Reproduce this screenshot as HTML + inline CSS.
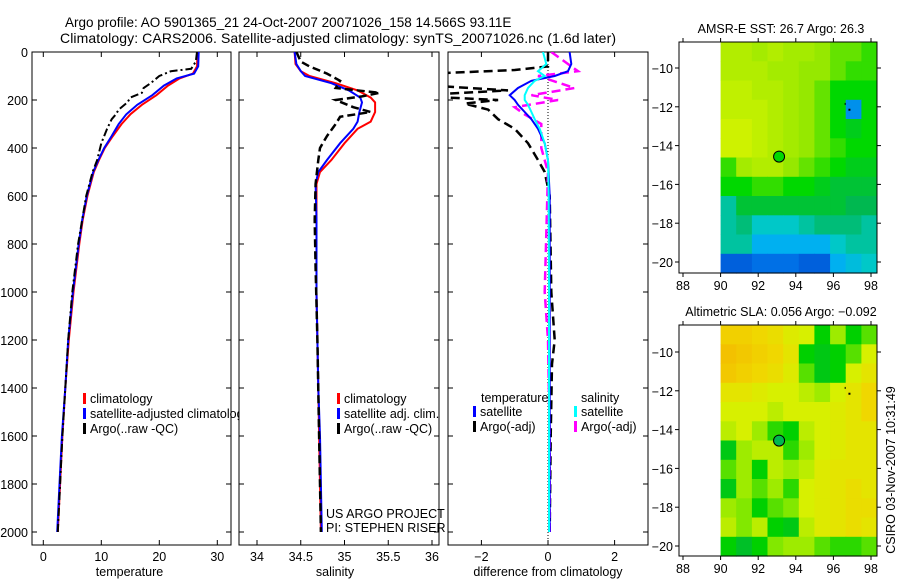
<!DOCTYPE html>
<html><head><meta charset="utf-8"><style>
body{margin:0;background:#fff;}
svg text{font-family:"Liberation Sans",sans-serif;fill:#000;}
</style></head><body>
<svg id="c" width="900" height="580" xmlns="http://www.w3.org/2000/svg">
<text x="65" y="27" font-size="13.5">Argo profile: AO 5901365_21 24-Oct-2007 20071026_158 14.566S 93.11E</text>
<text x="60" y="43" font-size="14" textLength="556">Climatology: CARS2006. Satellite-adjusted climatology: synTS_20071026.nc (1.6d later)</text>
<g id="g"></g>
</svg>
<script>
// ---- data ----
const tDepth=[0,60,90,110,140,180,220,260,300,350,400,450,500,600,700,800,1000,1200,1400,1600,1800,2000];
const tClim=[26.6,26.5,25.8,23.5,21.5,19.5,17,15,13.5,12,10.6,9.6,8.7,7.6,6.8,6.2,5.2,4.4,3.8,3.3,2.9,2.5];
const tSat=[26.8,26.7,26,23,20.8,18.8,16.2,14.3,13,11.8,10.5,9.5,8.6,7.5,6.7,6.1,5.1,4.3,3.8,3.2,2.8,2.4];
const tArgoDepth=[0,40,70,80,100,130,150,170,190,210,240,260,280,320,380,450,500,600,800,1000,1200,1400,1600,1800,2000];
const tArgo=[26.5,26.3,25.5,22,20,18.5,17.3,17,15,14.5,13,12.5,11.8,11,10,9.3,8.5,7.4,6,5,4.3,3.8,3.3,2.9,2.5];
const sDepth=[0,50,80,100,130,160,190,210,250,290,320,380,450,500,550,700,1000,1400,1600,1800,2000];
const sClim=[34.43,34.44,34.5,34.6,34.9,35.15,35.3,35.35,35.35,35.3,35.15,35.0,34.85,34.72,34.68,34.68,34.68,34.7,34.71,34.72,34.73];
const sSat=[34.43,34.45,34.5,34.55,34.85,35.05,35.18,35.2,35.17,35.15,35.1,34.95,34.8,34.7,34.67,34.68,34.68,34.7,34.72,34.73,34.74];
const sArgoDepth=[0,40,60,90,120,150,170,185,200,230,250,270,300,350,400,450,550,700,900,1200,1600,2000];
const sArgo=[34.45,34.5,34.6,34.8,34.95,34.9,35.4,35.2,34.9,35.1,35.3,34.95,34.9,34.8,34.72,34.7,34.67,34.66,34.67,34.69,34.71,34.73];
const dTDepth=[0,50,80,100,120,150,180,200,220,250,280,320,380,450,600,1000,1400,2000];
const dTSat=[0.65,0.7,0.6,0.2,-0.5,-0.9,-1.15,-1.0,-0.9,-0.7,-0.5,-0.3,-0.1,0,0.05,0.05,0.05,0.05];
const dTArgoDepth=[0,60,75,90,110,140,160,175,190,200,215,240,280,320,380,450,500,600,1000,1200,1300,1600,2000];
const dTArgo=[0,0,-1,-3.5,-3.2,-3.5,-1.2,-3.2,-3.0,-1.5,-2.5,-1.8,-1.5,-1.0,-0.6,-0.3,-0.1,0.05,0.1,0.2,0.12,0.08,0.05];
const dSSat=[-0.15,-0.05,-0.3,-0.1,-0.4,-0.6,-0.7,-0.7,-0.6,-0.5,-0.4,-0.25,-0.1,0,0.02,0.03,0.03,0.03];
const dSArgoDepth=[0,50,80,100,150,180,200,230,260,300,400,500,1000,1200,1600,2000];
const dSArgo=[0.1,0.6,0.9,-0.3,0.8,-0.5,0.3,-1.0,-0.7,-0.2,-0.2,0,-0.1,0,0.05,0.05];
const depthTicks=[0,200,400,600,800,1000,1200,1400,1600,1800,2000];
const tTicks=[0,10,20,30];
const sTicks=[34,34.5,35,35.5,36];
const dTicks=[-2,0,2];
const sstGrid=[
[.85,.85,.8,.85,.8,.8,.75,.7,.7,.65],
[.85,.85,.85,.8,.8,.75,.75,.7,.65,.65],
[.9,.9,.85,.85,.8,.75,.7,.6,.6,.6],
[.9,.9,.9,.85,.8,.75,.7,.6,.15,.6],
[.95,.95,.9,.85,.8,.75,.7,.6,.55,.6],
[.95,.95,.9,.85,.8,.75,.7,.65,.6,.6],
[.65,.8,.85,.85,.75,.7,.65,.6,.55,.55],
[.6,.6,.65,.65,.6,.6,.55,.5,.5,.5],
[.35,.5,.5,.5,.5,.5,.5,.5,.45,.45],
[.35,.4,.3,.3,.3,.35,.4,.4,.4,.35],
[.35,.35,.2,.2,.2,.2,.2,.3,.35,.35],
[.05,.05,.1,.1,.1,.05,.05,.2,.25,.3]];
const slaGrid=[
[.75,.75,.7,.65,.55,.5,.2,.4,.2,.3],
[.85,.8,.75,.7,.6,.2,.15,.2,.3,.5],
[.8,.75,.7,.65,.55,.3,.15,.2,.5,.6],
[.6,.6,.55,.5,.5,.45,.4,.5,.6,.7],
[.5,.5,.5,.45,.5,.5,.5,.55,.6,.7],
[.45,.5,.4,.25,.2,.45,.5,.55,.6,.6],
[.15,.4,.45,.45,.25,.4,.5,.55,.6,.6],
[.3,.4,.2,.45,.4,.45,.55,.6,.6,.6],
[.15,.4,.3,.4,.25,.5,.55,.6,.65,.6],
[.4,.35,.2,.3,.35,.5,.55,.6,.65,.65],
[.45,.35,.45,.2,.15,.45,.55,.6,.65,.6],
[.2,.1,.2,.35,.4,.4,.3,.25,.25,.3]];
const lonTicks=[88,90,92,94,96,98];
const latTicks=[-10,-12,-14,-16,-18,-20];
const floatLon=93.11, floatLat=-14.566;

// ---- drawing ----
const NS="http://www.w3.org/2000/svg";
const G=document.getElementById('g');
function el(t,a,p){const e=document.createElementNS(NS,t);for(const k in a)e.setAttribute(k,a[k]);(p||G).appendChild(e);return e;}
const yD=d=>52+d*0.24;
const panels=[
 {x0:32,x1:231,fx:v=>43.3+v*5.8,ticks:tTicks,lab:'temperature',name:'temperature'},
 {x0:239,x1:439,fx:v=>257+(v-34)*87.5,ticks:sTicks,lab:'salinity',name:'salinity'},
 {x0:448,x1:648,fx:v=>548+v*33.3,ticks:dTicks,lab:'difference from climatology',name:'difference'}];
function line(p,xs,ds,col,w,dash,name){
 const pts=xs.map((v,i)=>p.fx(v).toFixed(1)+','+yD(ds[i]).toFixed(1)).join(' ');
 const e=el('polyline',{points:pts,fill:'none',stroke:col,'stroke-width':w,'stroke-dasharray':dash||'none','clip-path':'url(#cp'+p.name+')'});
 
 
}
function legend(x,y,items){items.forEach((it,i)=>{
 const r=el('rect',{x:x,y:y+i*15-10,width:3,height:11,fill:it[1]});
 
 const t=el('text',{x:x+7,y:y+i*15,'font-size':12.5});t.textContent=it[0];
 });}
const defs=el('defs',{});
panels.forEach((p,pi)=>{
 const cp=el('clipPath',{id:'cp'+p.name},defs);el('rect',{x:p.x0,y:52,width:p.x1-p.x0,height:493},cp);
 const bg=el('rect',{x:p.x0,y:52,width:p.x1-p.x0,height:493,fill:'#fff',stroke:'#000','stroke-width':1});
 
 depthTicks.forEach(d=>{el('line',{x1:p.x0,x2:p.x0+5,y1:yD(d),y2:yD(d),stroke:'#000'});el('line',{x1:p.x1,x2:p.x1-5,y1:yD(d),y2:yD(d),stroke:'#000'});
  if(pi==0){const t=el('text',{x:28,y:yD(d)+5,'font-size':12.5,'text-anchor':'end'});t.textContent=d;}});
 p.ticks.forEach(v=>{const x=p.fx(v);el('line',{x1:x,x2:x,y1:545,y2:540,stroke:'#000'});el('line',{x1:x,x2:x,y1:52,y2:57,stroke:'#000'});
  const t=el('text',{x:x,y:561,'font-size':12.5,'text-anchor':'middle'});t.textContent=(v<0?'\u2212'+(-v):v);});
 const xl=el('text',{x:(p.x0+p.x1)/2+(pi==0?-2:pi==1?-4:0),y:576,'font-size':12.5,'text-anchor':'middle'});xl.textContent=p.lab;
 
 if(pi==0){line(p,tClim,tDepth,'#f00',2,null,'temp-climatology-line');line(p,tSat,tDepth,'#00f',2,null,'temp-satellite-line');line(p,tArgo,tArgoDepth,'#000',2,'8 3 2 3','temp-argo-line');
  legend(83,403,[['climatology','#f00'],['satellite-adjusted climatology','#00f'],['Argo(..raw -QC)','#000']]);}
 if(pi==1){line(p,sClim,sDepth,'#f00',2,null,'sal-climatology-line');line(p,sSat,sDepth,'#00f',2,null,'sal-satellite-line');line(p,sArgo,sArgoDepth,'#000',2.5,'8 4','sal-argo-line');
  legend(337,403,[['climatology','#f00'],['satellite adj. clim.','#00f'],['Argo(..raw -QC)','#000']]);
  const a=el('text',{x:326,y:518,'font-size':12.5});a.textContent='US ARGO PROJECT';
  const b=el('text',{x:326,y:532,'font-size':12.5});b.textContent='PI: STEPHEN RISER';}
 if(pi==2){el('line',{x1:p.fx(0),x2:p.fx(0),y1:52,y2:545,stroke:'#000','stroke-dasharray':'1 2','stroke-width':1});
  line(p,dTArgo,dTArgoDepth,'#000',2.5,'9 5','diff-temp-argo-line');line(p,dSArgo,dSArgoDepth,'#f0f',2.5,'9 5','diff-sal-argo-line');
  line(p,dTSat,dTDepth,'#00f',2,null,'diff-temp-satellite-line');line(p,dSSat,dTDepth,'#0ff',2,null,'diff-sal-satellite-line');
  const t1=el('text',{x:481,y:402,'font-size':12.5});t1.textContent='temperature';
  const t2=el('text',{x:581,y:402,'font-size':12.5});t2.textContent='salinity';
  legend(473,416,[['satellite','#00f'],['Argo(-adj)','#000']]);legend(574,416,[['satellite','#0ff'],['Argo(-adj)','#f0f']]);}
});
// maps
function lerp(stops,v){v=Math.max(0,Math.min(1,v));for(let i=1;i<stops.length;i++){if(v<=stops[i][0]){const a=stops[i-1],b=stops[i],t=(v-a[0])/(b[0]-a[0]);return 'rgb('+[1,2,3].map(k=>Math.round(a[k]+(b[k]-a[k])*t)).join(',')+')';}}return 'rgb(0,0,0)';}
const sstStops=[[0,0,80,210],[0.1,0,112,230],[0.2,0,176,240],[0.3,0,200,200],[0.45,0,184,80],[0.6,0,216,0],[0.75,150,232,0],[1,220,245,0]];
const slaStops=[[0,0,176,80],[0.2,0,208,0],[0.35,130,232,0],[0.5,215,240,0],[0.7,240,215,0],[1,245,170,0]];
function map(top,m10,grid,stops,title,name){
 const x0=679,x1=877,bot=top+231,sx=lo=>683+(lo-88)*18.8,sy=la=>m10+(-10-la)*19.4;
 const b=el('rect',{x:x0,y:top,width:x1-x0,height:bot-top,fill:'#fff',stroke:'#000'});
 const lat0=-10-(top-m10)/19.4;
 const rows=grid.length,cols=grid[0].length,latSpan=lat0-(-10-(bot-m10)/19.4),lonStart=90,lonSpan=(x1-sx(90))/18.8;
 grid.forEach((row,r)=>row.forEach((v,c)=>{
  const xa=sx(lonStart+c*lonSpan/cols),xb=sx(lonStart+(c+1)*lonSpan/cols),ya=sy(lat0-r*latSpan/rows),yb=sy(lat0-(r+1)*latSpan/rows);
  const e=el('rect',{x:xa.toFixed(1),y:ya.toFixed(1),width:(xb-xa+0.5).toFixed(1),height:(yb-ya+0.5).toFixed(1),fill:lerp(stops,v)});
  }));
 el('rect',{x:x0,y:top,width:x1-x0,height:bot-top,fill:'none',stroke:'#000'});
 lonTicks.forEach(lo=>{const x=sx(lo);el('line',{x1:x,x2:x,y1:top,y2:top-4,stroke:'#000'});el('line',{x1:x,x2:x,y1:bot,y2:bot+4,stroke:'#000'});
  const t=el('text',{x:x,y:bot+17,'font-size':12.5,'text-anchor':'middle'});t.textContent=lo;});
 latTicks.forEach(la=>{const y=sy(la);el('line',{x1:x0,x2:x0-4,y1:y,y2:y,stroke:'#000'});el('line',{x1:x1,x2:x1+4,y1:y,y2:y,stroke:'#000'});
  const t=el('text',{x:673,y:y+5,'font-size':12.5,'text-anchor':'end'});t.textContent='\u2212'+(-la);});
 const tt=el('text',{x:781,y:top-9,'font-size':12.5,'text-anchor':'middle'});tt.textContent=title;
 const c=el('circle',{cx:sx(floatLon),cy:sy(floatLat),r:5.5,fill:name=='sst'?'#00d800':'#00b850',stroke:'#000'});
 el('rect',{x:sx(96.8),y:sy(-12.1),width:2,height:2,fill:'#000'});el('rect',{x:sx(96.6),y:sy(-11.8),width:1,height:2,fill:'#000'});
}
map(42,68,sstGrid,sstStops,'AMSR-E SST: 26.7 Argo: 26.3','sst');
map(325,352,slaGrid,slaStops,'Altimetric SLA: 0.056 Argo: \u22120.092','sla');
const cs=el('text',{x:0,y:0,'font-size':12.5,'text-anchor':'middle',transform:'translate(895,470) rotate(-90)'});cs.textContent='CSIRO 03-Nov-2007 10:31:49';

</script>
</body></html>
